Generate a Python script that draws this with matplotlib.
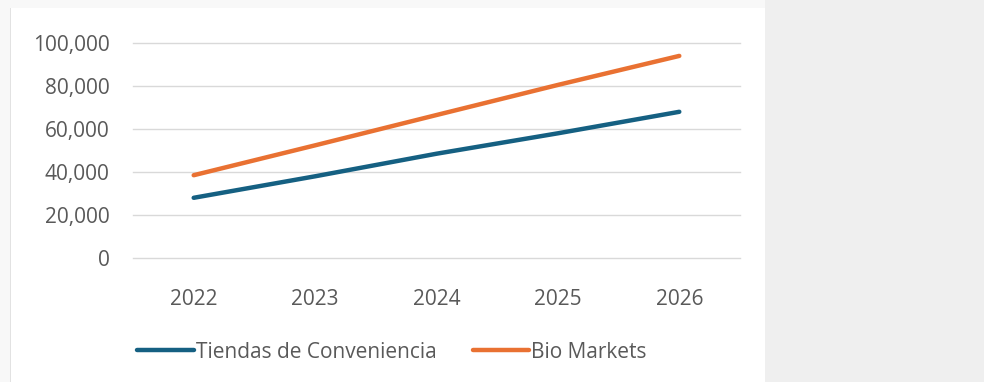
import matplotlib
matplotlib.use("Agg")
import matplotlib.pyplot as plt
from matplotlib.patches import Rectangle
from matplotlib.ticker import FuncFormatter

years = ["2022", "2023", "2024", "2025", "2026"]
tiendas = [28000, 38000, 48500, 58000, 68000]
bio = [38500, 52400, 66500, 80500, 94000]
series_names = ["Tiendas de Conveniencia", "Bio Markets"]
yticks = [0, 20000, 40000, 60000, 80000, 100000]

plt.rcParams['font.family'] = ['Open Sans', 'DejaVu Sans']
text_color = "#595959"
W, H = 984, 382

fig = plt.figure(figsize=(9.84, 3.82), dpi=100)
fig.patch.set_facecolor("#f8f8f8")
# white chart panel and grey page area at right
fig.add_artist(Rectangle((11/W, 0), (765 - 11)/W, 1 - 8/H, transform=fig.transFigure,
                         facecolor="white", edgecolor="none", zorder=0))
fig.add_artist(Rectangle((765/W, 0), 1, 1, transform=fig.transFigure,
                         facecolor="#efefef", edgecolor="none", zorder=0))
fig.add_artist(Rectangle((10/W, 0), 1/W, 1 - 8/H, transform=fig.transFigure,
                         facecolor="#e2e2e2", edgecolor="none", zorder=0))

ax = fig.add_axes([133/W, 1 - 258/H, (740 - 133)/W, (258 - 43)/H])
ax.set_facecolor("none")
x = list(range(len(years)))
l1, = ax.plot(x, tiendas, color="#156082", lw=3.2, solid_capstyle="round", label=series_names[0])
l2, = ax.plot(x, bio, color="#E97132", lw=3.2, solid_capstyle="round", label=series_names[1])

ax.set_xlim(-0.5, len(years) - 0.5)
ax.set_ylim(0, 100000)
ax.set_yticks(yticks)
ax.yaxis.set_major_formatter(FuncFormatter(lambda v, p: f"{int(v):,}"))
ax.set_xticks(x)
ax.set_xticklabels(years)
ax.grid(axis="y", color="#d9d9d9", lw=1.0)
for gl in ax.get_ygridlines():
    gl.set_clip_on(False)
ax.set_axisbelow(True)
for s in ax.spines.values():
    s.set_visible(False)
ax.tick_params(axis="both", length=0, colors=text_color, labelsize=15)
ax.tick_params(axis="y", pad=17)
ax.tick_params(axis="x", pad=22)

fig.legend(handles=[l1, l2], loc="center", bbox_to_anchor=(392/W, 1 - 352/H),
           ncol=2, frameon=False, fontsize=15, labelcolor=text_color,
           handlelength=2.7, handletextpad=0.1, columnspacing=1.75)

fig.savefig("out.png", dpi=100)
